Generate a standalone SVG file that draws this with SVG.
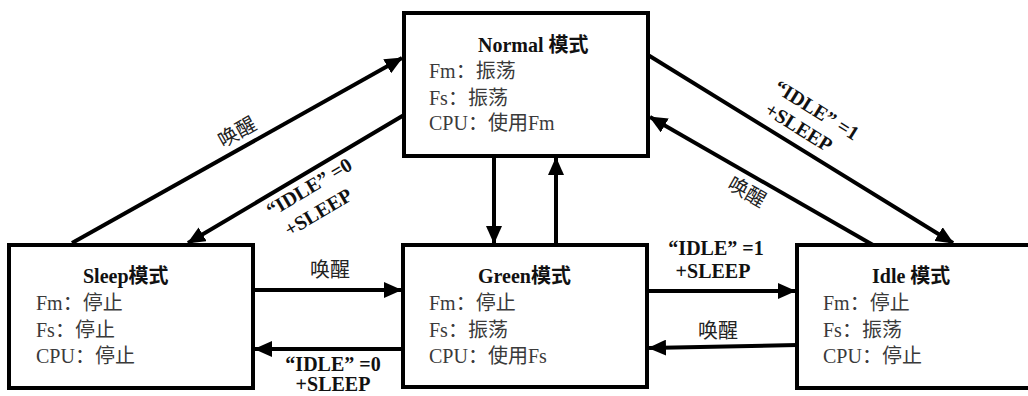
<svg xmlns="http://www.w3.org/2000/svg" width="1028" height="396" viewBox="0 0 1028 396">
<style>
.box{fill:#fff;stroke:#000;stroke-width:4}
.title{font-family:"Liberation Serif","Noto Sans CJK SC",serif;font-size:20px;font-weight:bold;fill:#111}
.body{font-family:"Liberation Serif","Noto Sans CJK SC",serif;font-size:20px;fill:#3a3a3a}
.lbl{font-family:"Liberation Serif","Noto Sans CJK SC",serif;font-size:20px;font-weight:bold;fill:#111;text-anchor:middle}
.lblc{font-family:"Liberation Serif","Noto Sans CJK SC",serif;font-size:20px;fill:#222;text-anchor:middle}
.edge{stroke:#000;stroke-width:4;fill:none;marker-end:url(#arr)}
</style>
<defs>
<marker id="arr" markerUnits="userSpaceOnUse" markerWidth="18" markerHeight="16" viewBox="0 0 18 16" refX="17" refY="8" orient="auto">
<path d="M0,0 L18,8 L0,16 z" fill="#000"/>
</marker>
</defs>
<rect width="1028" height="396" fill="#fff"/>
<g id="connectors">
<line class="edge" x1="72" y1="243" x2="402" y2="58"/>
<line class="edge" x1="404" y1="115" x2="188" y2="243"/>
<line class="edge" x1="648" y1="55" x2="953" y2="243"/>
<line class="edge" x1="873" y1="245" x2="650" y2="117"/>
<line class="edge" x1="494" y1="156" x2="494" y2="243"/>
<line class="edge" x1="556" y1="245" x2="556" y2="158"/>
<line class="edge" x1="253" y1="290" x2="401" y2="290"/>
<line class="edge" x1="403" y1="349" x2="255" y2="349"/>
<line class="edge" x1="647" y1="291" x2="795" y2="291"/>
<line class="edge" x1="797" y1="345" x2="649" y2="348"/>
<text class="lblc" transform="translate(237,132) rotate(-29.3)" y="7">唤醒</text>
<text class="lbl" transform="translate(309,187) rotate(-30.7)" y="7">“IDLE” =0</text>
<text class="lbl" transform="translate(318,212) rotate(-30.7)" y="7">+SLEEP</text>
<text class="lbl" transform="translate(817,110) rotate(31.8)" y="7">“IDLE” =1</text>
<text class="lbl" transform="translate(799,127) rotate(31.8)" y="7">+SLEEP</text>
<text class="lblc" transform="translate(747,192) rotate(29.9)" y="7">唤醒</text>
<text class="lblc" x="330" y="277">唤醒</text>
<text class="lbl" x="333" y="371">“IDLE” =0</text>
<text class="lbl" x="333" y="391">+SLEEP</text>
<text class="lbl" x="716" y="255">“IDLE” =1</text>
<text class="lbl" x="713" y="278">+SLEEP</text>
<text class="lblc" x="718" y="338">唤醒</text>
</g>
<g id="normal">
<rect class="box" x="404" y="13" width="244" height="143"/>
<text class="title" x="478" y="52">Normal 模式</text>
<text class="body" x="429" y="78">Fm：振荡</text>
<text class="body" x="429" y="105">Fs：振荡</text>
<text class="body" x="429" y="130">CPU：使用Fm</text>
</g>
<g id="sleep">
<rect class="box" x="9" y="245" width="244" height="143"/>
<text class="title" x="83" y="283">Sleep模式</text>
<text class="body" x="36" y="310">Fm：停止</text>
<text class="body" x="36" y="337">Fs：停止</text>
<text class="body" x="36" y="363">CPU：停止</text>
</g>
<g id="green">
<rect class="box" x="403" y="245" width="244" height="142"/>
<text class="title" x="478" y="283">Green模式</text>
<text class="body" x="429" y="310">Fm：停止</text>
<text class="body" x="429" y="337">Fs：振荡</text>
<text class="body" x="429" y="363">CPU：使用Fs</text>
</g>
<g id="idle">
<rect class="box" x="797" y="245" width="260" height="143"/>
<text class="title" x="872" y="283">Idle 模式</text>
<text class="body" x="823" y="310">Fm：停止</text>
<text class="body" x="823" y="337">Fs：振荡</text>
<text class="body" x="823" y="363">CPU：停止</text>
</g>
</svg>
